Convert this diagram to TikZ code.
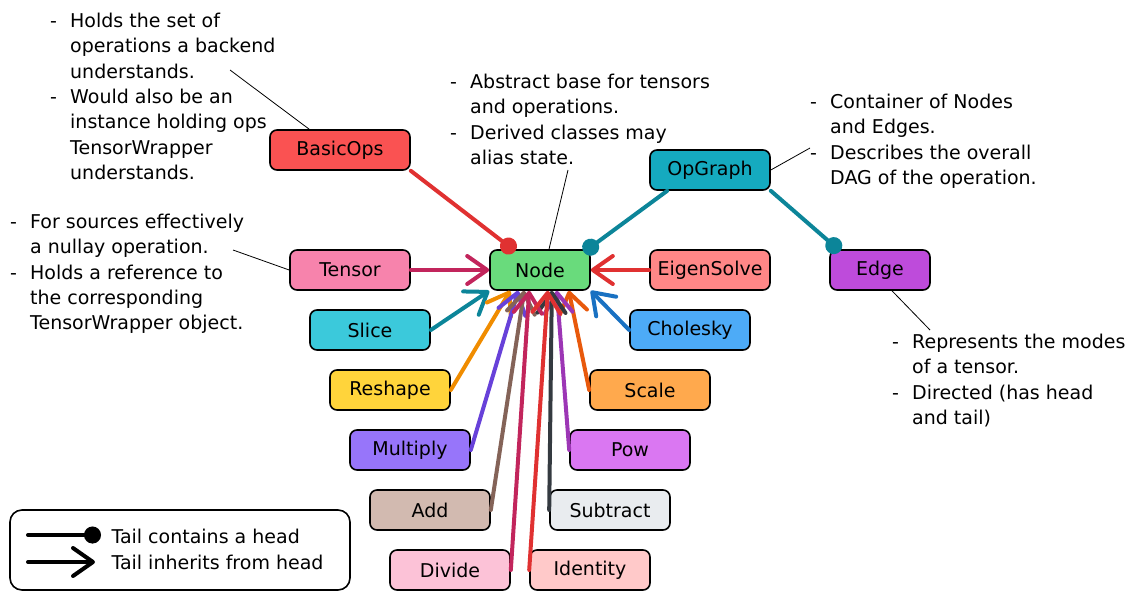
\documentclass[tikz,border=0pt]{standalone}
\usepackage{fontspec}
\setmainfont{DejaVu Sans}
\usepackage{xcolor}
\usepackage{tikz}
\usetikzlibrary{positioning,arrows.meta}

\definecolor{red6}{HTML}{FA5252}
\definecolor{red4}{HTML}{FF8787}
\definecolor{red2}{HTML}{FFC9C9}
\definecolor{red8}{HTML}{E03131}
\definecolor{green4}{HTML}{69DB7C}
\definecolor{cyan6}{HTML}{15AABF}
\definecolor{cyan4}{HTML}{3BC9DB}
\definecolor{cyan8}{HTML}{0C8599}
\definecolor{pink4}{HTML}{F783AC}
\definecolor{pink2}{HTML}{FCC2D7}
\definecolor{pink8}{HTML}{C2255C}
\definecolor{grape6}{HTML}{BE4BDB}
\definecolor{grape4}{HTML}{DA77F2}
\definecolor{grape8}{HTML}{9C36B5}
\definecolor{blue4}{HTML}{4DABF7}
\definecolor{blue8}{HTML}{1971C2}
\definecolor{yellow4}{HTML}{FFD43B}
\definecolor{yellow9}{HTML}{F08C00}
\definecolor{orange4}{HTML}{FFA94D}
\definecolor{orange8}{HTML}{E8590C}
\definecolor{violet5}{HTML}{9775FA}
\definecolor{violet8}{HTML}{6741D9}
\definecolor{bronze2}{HTML}{D2BAB0}
\definecolor{bronze8}{HTML}{846358}
\definecolor{gray2}{HTML}{E9ECEF}
\definecolor{gray8}{HTML}{343A40}

\newcommand\dashitem{\makebox[20pt][l]{-}}
\newcommand\dashind{\hspace*{20pt}}

\begin{document}
\begin{tikzpicture}[
    x=1pt, y=-1pt,
    node distance = 18.4pt and 78.4pt,
    every node/.style={font=\fontsize{19}{25.3}\selectfont},
    block/.style = {draw, line width=1.6pt, rounded corners=7pt, minimum height=40pt, minimum width=120pt, inner sep=0pt, align=center},
    note/.style = {anchor=north west, align=left, inner sep=0pt},
    pointer/.style = {draw, line width=0.8pt},
    contain/.style = {draw, line width=4pt, line cap=round, -{Circle[length=17pt]}},
    inherit/.style = {draw, line width=4pt, line cap=round, -{Straight Barb[length=20pt, width=28pt, round]}}
  ]
  \useasboundingbox (0,0) rectangle (1134,600);

  % Nodes
  \node [block, fill=green4, minimum width=100pt] (node) at (540,270) {Node};
  \node [block, fill=red6, minimum width=140pt, above left=78.4pt and 78.4pt of node] (basicops) {BasicOps};
  \node [block, fill=pink4, left=of node] (tensor) {Tensor};
  \node [block, fill=cyan4, below=of tensor, xshift=20pt] (slice) {Slice};
  \node [block, fill=yellow4, below=of slice, xshift=20pt] (reshape) {Reshape};
  \node [block, fill=violet5, below=of reshape, xshift=20pt] (multiply) {Multiply};
  \node [block, fill=bronze2, below=of multiply, xshift=20pt] (add) {Add};
  \node [block, fill=pink2, below=of add, xshift=20pt] (divide) {Divide};
  \node [block, fill=red4, right=58.4pt of node] (eigen) {EigenSolve};
  \node [block, fill=blue4, below=of eigen, xshift=-20pt] (cholesky) {Cholesky};
  \node [block, fill=orange4, below=of cholesky, xshift=-40pt] (scale) {Scale};
  \node [block, fill=grape4, below=of scale, xshift=-20pt] (pow) {Pow};
  \node [block, fill=gray2, below=of pow, xshift=-20pt] (subtract) {Subtract};
  \node [block, fill=red2, below=of subtract, xshift=-20pt] (identity) {Identity};
  \node [block, fill=cyan6, above=58.4pt of eigen] (opgraph) {OpGraph};
  \node [block, fill=grape6, minimum width=100pt, right=58.4pt of eigen] (edge) {Edge};

  % Notes
  \node [note] (basicnote) at (50,13) {\dashitem Holds the set of\\ \dashind operations a backend\\ \dashind understands.\\ \dashitem Would also be an\\ \dashind instance holding ops\\ \dashind TensorWrapper\\ \dashind understands.};
  \node [note] (nodenote) at (450,74) {\dashitem Abstract base for tensors\\ \dashind and operations.\\ \dashitem Derived classes may\\ \dashind alias state.};
  \node [note] (graphnote) at (810,94) {\dashitem Container of Nodes\\ \dashind and Edges.\\ \dashitem Describes the overall\\ \dashind DAG of the operation.};
  \node [note] (tensornote) at (10,214) {\dashitem For sources effectively\\ \dashind a nullay operation.\\ \dashitem Holds a reference to\\ \dashind the corresponding\\ \dashind TensorWrapper object.};
  \node [note] (edgenote) at (892,334) {\dashitem Represents the modes\\ \dashind of a tensor.\\ \dashitem Directed (has head\\ \dashind and tail)};

  \coordinate (basictip) at (230,70);
  \coordinate (nodetip) at (568,170);
  \coordinate (graphtip) at (810,148);
  \coordinate (tensortip) at (233,250);
  \coordinate (edgetip) at (930,330);

  % Lines
  \draw [pointer] (basictip) -- ([xshift=40pt]basicops.north west);
  \draw [pointer] (nodetip) -- ([xshift=9pt]node.north);
  \draw [pointer] (opgraph.east) -- (graphtip);
  \draw [pointer] (tensortip) -- (tensor.west);
  \draw [pointer] ([xshift=12pt]edge.south) -- (edgetip);

  \draw [contain, red8] (basicops.south east) -- ([xshift=26pt,yshift=-2pt]node.north west);
  \draw [contain, cyan8] ([xshift=18pt]opgraph.south west) -- ([xshift=-7pt,yshift=-3pt]node.north east);
  \draw [contain, cyan8] (opgraph.south east) -- ([xshift=11pt,yshift=-2pt]edge.north west);

  \draw [inherit, pink8] (tensor.east) -- (node.west);
  \draw [inherit, red8] (eigen.west) -- (node.east);
  \draw [inherit, cyan8] (slice.east) -- (node.south west);
  \draw [inherit, blue8] (cholesky.west) -- (node.south east);
  \draw [inherit, yellow9] (reshape.east) -- ([xshift=21pt]node.south west);
  \draw [inherit, orange8] (scale.west) -- ([xshift=-22pt]node.south east);
  \draw [inherit, violet8] (multiply.east) -- ([xshift=29pt]node.south west);
  \draw [inherit, grape8] (pow.west) -- ([xshift=-34pt]node.south east);
  \draw [inherit, bronze8] (add.east) -- ([xshift=35pt]node.south west);
  \draw [inherit, gray8] (subtract.west) -- ([xshift=-39pt]node.south east);
  \draw [inherit, pink8] (divide.east) -- ([xshift=40pt]node.south west);
  \draw [inherit, red8] (identity.west) -- ([xshift=-43pt]node.south east);

  % Legend
  \node [draw, line width=1.6pt, rounded corners=12pt, minimum width=340pt, minimum height=80pt, inner sep=0pt] (legend) at (180,550) {};
  \coordinate (keyA) at (28,535);
  \coordinate (keyB) at (101,535);
  \coordinate (keyC) at (28,562);
  \coordinate (keyD) at (95,562);
  \draw [contain, black] (keyA) -- (keyB);
  \draw [inherit, black] (keyC) -- (keyD);
  \node [anchor=west] (containtxt) at (108,536) {Tail contains a head};
  \node [anchor=west] (inherittxt) at (108,562) {Tail inherits from head};
\end{tikzpicture}
\end{document}
